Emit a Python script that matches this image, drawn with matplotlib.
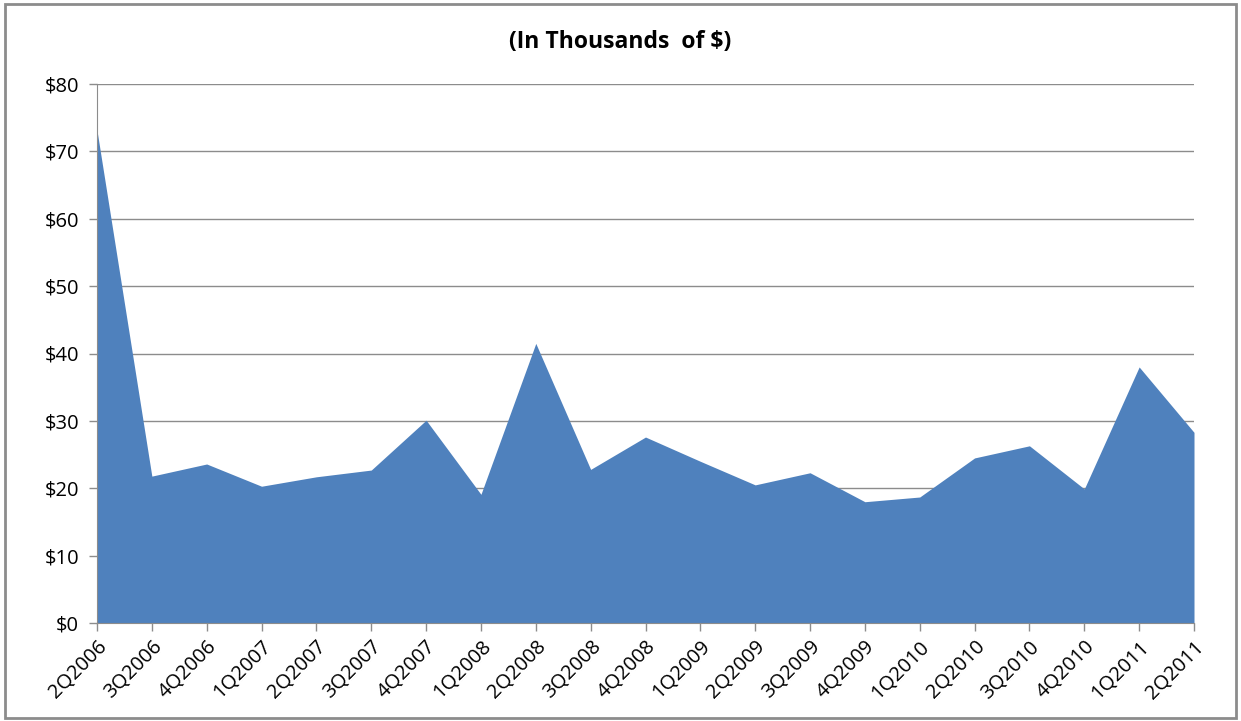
import matplotlib
matplotlib.use('Agg')
import matplotlib.pyplot as plt
from matplotlib.patches import Rectangle
import numpy as np

quarters = ['2Q2006', '3Q2006', '4Q2006', '1Q2007', '2Q2007', '3Q2007', '4Q2007',
            '1Q2008', '2Q2008', '3Q2008', '4Q2008', '1Q2009', '2Q2009', '3Q2009',
            '4Q2009', '1Q2010', '2Q2010', '3Q2010', '4Q2010', '1Q2011', '2Q2011']
values = [73.1, 21.8, 23.6, 20.3, 21.7, 22.7, 30.1,
          19.1, 41.5, 22.8, 27.6, 24.0, 20.5, 22.3,
          18.0, 18.7, 24.5, 26.3, 19.9, 38.0, 28.3]
yticks = [0, 10, 20, 30, 40, 50, 60, 70, 80]

plt.rcParams['font.family'] = ['Open Sans', 'DejaVu Sans']

fig = plt.figure(figsize=(12.41, 7.21), dpi=100)
ax = fig.add_axes([97 / 1241, 1 - 623 / 721, (1194 - 97) / 1241, (623 - 84) / 721])

x = np.arange(len(quarters))
ax.fill_between(x, values, 0, color='#4f81bd', linewidth=0)

ax.set_xlim(0, len(quarters) - 1)
ax.set_ylim(0, 80)
ax.set_yticks(yticks)
ax.set_yticklabels(['$' + str(v) for v in yticks], fontsize=14.5)
ax.set_xticks(x)
ax.set_xticklabels(quarters, rotation=45, ha='right', rotation_mode='anchor', fontsize=14.5)
ax.yaxis.grid(True, color='#8c8c8c', linewidth=1)
ax.set_axisbelow(True)

for s in ['top', 'right']:
    ax.spines[s].set_visible(False)
for s in ['left', 'bottom']:
    ax.spines[s].set_color('#8c8c8c')
ax.tick_params(axis='both', color='#8c8c8c', length=6, width=1)
ax.tick_params(axis='x', pad=4)
ax.tick_params(axis='y', pad=7)

fig.text(0.5, 1 - 42 / 721, '(In Thousands  of $)', ha='center', va='center',
         fontsize=16.5, fontweight='bold')

fig.patches.append(Rectangle((0.004, 0.004), 0.992, 0.99, transform=fig.transFigure,
                             fill=False, edgecolor='#8c8c8c', linewidth=2))

fig.savefig('out.png', dpi=100)
